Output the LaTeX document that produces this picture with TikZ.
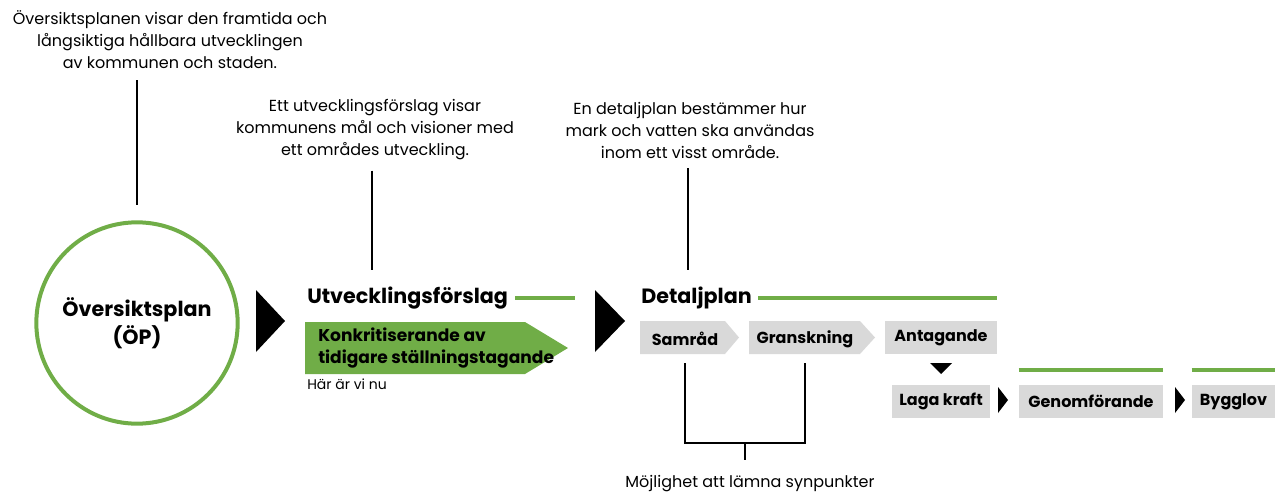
\documentclass[tikz,border=0pt]{standalone}
\usepackage{fontspec}
\setmainfont{Poppins}
\usetikzlibrary{positioning, calc}
\definecolor{planGreen}{RGB}{112,173,71}
\definecolor{stageGray}{RGB}{217,217,217}

\begin{document}
\begin{tikzpicture}[
      x=0.75pt, y=-0.75pt,
      note/.style={align=center, inner sep=0pt, font=\fontsize{12}{16.5}\selectfont},
      title/.style={anchor=west, inner sep=0pt, font=\bfseries\fontsize{15.5}{18}\selectfont},
      stagetext/.style={inner sep=0pt, font=\bfseries\fontsize{12}{14}\selectfont},
      stagebox/.style={fill=stageGray, minimum height=25pt, inner sep=0pt, font=\bfseries\fontsize{12}{14}\selectfont},
      pointer/.style={fill=black},
      greenbar/.style={draw=planGreen, line width=3pt},
      lead/.style={line width=0.9pt}
    ]
    \useasboundingbox (0,0) rectangle (1285,493);

    % Descriptions above
    \node[note] (note1) at (170,40) {Översiktsplanen visar den framtida och\\långsiktiga hållbara utvecklingen\\av kommunen och staden.};
    \node[note] (note2) at (375,130) {Ett utvecklingsförslag visar\\kommunens mål och visioner med\\ett områdes utveckling.};
    \node[note] (note3) at (690,130) {En detaljplan bestämmer hur\\mark och vatten ska användas\\inom ett visst område.};

    % Översiktsplan
    \node[circle, draw=planGreen, line width=3pt, minimum size=151pt, align=center,
          font=\bfseries\fontsize{15.5}{21}\selectfont] (op) at (137,323) {Översiktsplan\\(ÖP)};

    % Utvecklingsförslag
    \fill[pointer] (256,290) -- (285,321) -- (256,352) -- cycle;
    \node[title] (utv) at (307,298) {Utvecklingsförslag};
    \draw[greenbar] (515,298) -- (575,298);
    \fill[planGreen] (305,322) -- (525,322) -- (568,348) -- (525,374) -- (305,374) -- cycle;
    \node[anchor=west, align=left, inner sep=0pt, font=\bfseries\fontsize{12.8}{16}\selectfont] (konk) at (318,348)
      {Konkritiserande av\\tidigare ställningstagande};
    \node[anchor=west, inner sep=0pt, font=\fontsize{10.5}{12}\selectfont] (nu) at (307,384) {Här är vi nu};

    % Detaljplan
    \fill[pointer] (595,290) -- (625,321) -- (595,352) -- cycle;
    \node[title] (dp) at (641,298) {Detaljplan};
    \draw[greenbar] (758,298) -- (997,298);

    \fill[stageGray] (640,321) -- (725,321) -- (739,337.5) -- (725,354) -- (640,354) -- cycle;
    \node[stagetext] (samrad) at (685,339) {Samråd};
    \fill[stageGray] (749,321) -- (860,321) -- (875,337.5) -- (860,354) -- (749,354) -- cycle;
    \node[stagetext] (gransk) at (805,339) {Granskning};
    \node[stagebox, minimum width=84pt] (antag) at (941,337.5) {Antagande};

    \fill[pointer] (930,363) -- (952,363) -- (941,374) -- cycle;
    \node[stagebox, minimum width=73.5pt] (laga) at (941,401.5) {Laga kraft};
    \fill[pointer] (998,387) -- (1008,400) -- (998,413) -- cycle;
    \node[stagebox, minimum width=108pt] (genom) at (1091,401.5) {Genomförande};
    \draw[greenbar] (genom.west |- 0,370) -- (genom.east |- 0,370);
    \fill[pointer] (1175,387) -- (1185,400) -- (1175,413) -- cycle;
    \node[stagebox, minimum width=62.25pt] (bygg) at (1233.5,401.5) {Bygglov};
    \draw[greenbar] (bygg.west |- 0,370) -- (bygg.east |- 0,370);

    % Leads
    \draw[lead] (op.north |- 0,80) -- (op.north |- 0,205);
    \draw[lead] (note2.south -| 372,0) ++(0,10) -- (372,270);
    \draw[lead] (note3.south -| 688,0) ++(0,10) -- (688,270);

    % Bracket for synpunkter
    \node[note] (synp) at (750,484) {Möjlighet att lämna synpunkter};
    \coordinate (bl) at (samrad.south |- 0,443);
    \coordinate (br) at (gransk.south |- 0,443);
    \draw[lead] (samrad.south |- 0,363) -- (bl) -- (br) -- (gransk.south |- 0,363);
    \draw[lead] ($(bl)!0.5!(br)$) -- ++(0,17);

  \end{tikzpicture}
\end{document}
